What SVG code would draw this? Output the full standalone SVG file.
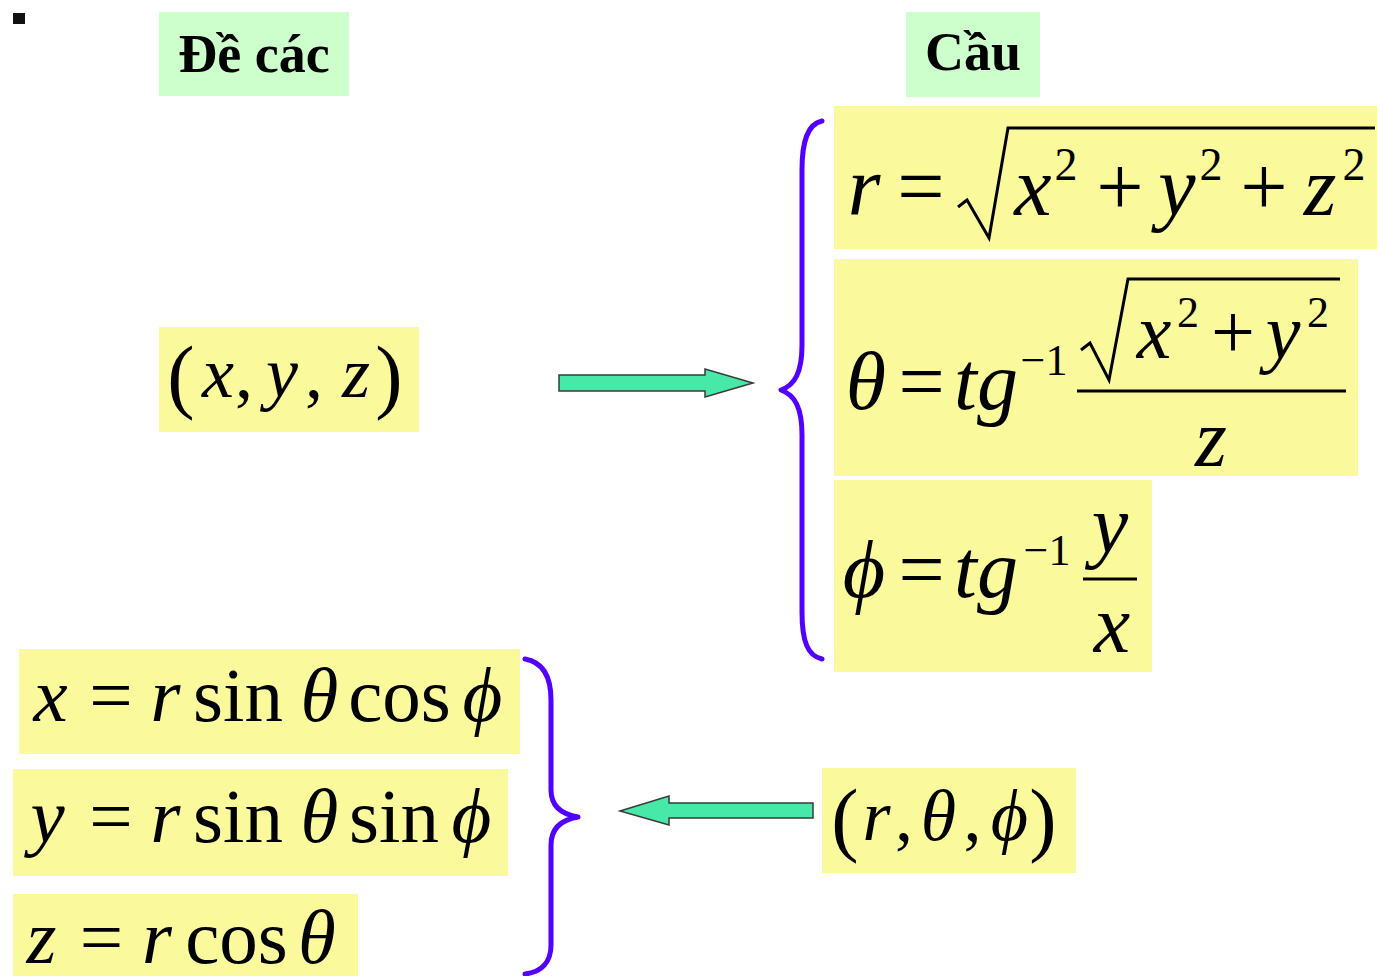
<svg xmlns="http://www.w3.org/2000/svg" width="1377" height="976" viewBox="0 0 1377 976">
<style>
.m{font-family:"Liberation Serif","Times New Roman",serif;fill:#000}
.i{font-style:italic}
.h{font-family:"Liberation Serif","Times New Roman",serif;font-weight:bold;font-size:54px;fill:#000}
.y{fill:#FAFA9C}
.g{fill:#CCFFCC}
.br{fill:none;stroke:#5200FF;stroke-width:5;stroke-linecap:round;stroke-linejoin:round}
.ar{fill:#48E8A8;stroke:#3a3a3a;stroke-width:1.5}
.rad{fill:none;stroke:#000;stroke-width:3;stroke-linejoin:miter}
.fl{stroke:#000;stroke-width:3}
</style>
<rect width="1377" height="976" fill="#fff"/>
<rect x="13" y="13" width="12" height="11" fill="#111"/>

<g id="hdr-decac">
<rect class="g" x="159" y="12" width="190" height="84"/>
<text class="h" x="254" y="72" text-anchor="middle">Đề các</text>
</g>
<g id="hdr-cau">
<rect class="g" x="906" y="12" width="134" height="85"/>
<text class="h" x="973" y="70" text-anchor="middle">Cầu</text>
</g>

<g id="node-xyz">
<rect class="y" x="159" y="327" width="260" height="105"/>
<text class="m" font-size="72" text-anchor="middle"><tspan x="181" y="403" font-size="82">(</tspan><tspan class="i" x="218" y="397">x</tspan><tspan x="244" y="397">,</tspan><tspan class="i" x="282" y="397">y</tspan><tspan x="314" y="397">,</tspan><tspan class="i" x="356" y="397">z</tspan><tspan x="389" y="403" font-size="82">)</tspan></text>
</g>

<g id="node-r">
<rect class="y" x="834" y="106" width="543" height="143"/>
<path class="rad" d="M958 207 L967 200 L989 238 L1008 128 L1375 128"/>
<text class="m" font-size="84" text-anchor="middle"><tspan class="i" x="864" y="215">r</tspan><tspan x="921" y="215">=</tspan><tspan class="i" x="1033" y="215">x</tspan><tspan x="1066" y="180" font-size="46">2</tspan><tspan x="1120" y="215">+</tspan><tspan class="i" x="1177" y="215">y</tspan><tspan x="1211" y="180" font-size="46">2</tspan><tspan x="1264" y="215">+</tspan><tspan class="i" x="1320" y="215">z</tspan><tspan x="1354" y="180" font-size="46">2</tspan></text>
</g>

<g id="node-theta">
<rect class="y" x="834" y="259" width="524" height="217"/>
<path class="rad" d="M1081 350 L1090 343 L1109 380 L1128 279 L1340 279"/>
<line class="fl" x1="1077" y1="391" x2="1346" y2="391"/>
<text class="m" font-size="82" text-anchor="middle"><tspan class="i" x="866" y="409">θ</tspan><tspan x="921.5" y="409">=</tspan><tspan class="i" x="986" y="409">tg</tspan><tspan x="1044" y="375" font-size="44">−1</tspan><tspan class="i" x="1154" y="358" font-size="78">x</tspan><tspan x="1188" y="327" font-size="44">2</tspan><tspan x="1233" y="358" font-size="78">+</tspan><tspan class="i" x="1283" y="358" font-size="78">y</tspan><tspan x="1318" y="327" font-size="44">2</tspan><tspan class="i" x="1211" y="466">z</tspan></text>
</g>

<g id="node-phi">
<rect class="y" x="834" y="480" width="318" height="192"/>
<line class="fl" x1="1083" y1="579" x2="1137" y2="579"/>
<text class="m" font-size="82" text-anchor="middle"><tspan class="i" x="864" y="597">ϕ</tspan><tspan x="921.5" y="597">=</tspan><tspan class="i" x="986" y="597">tg</tspan><tspan x="1047" y="565" font-size="44">−1</tspan><tspan class="i" x="1110" y="552">y</tspan><tspan class="i" x="1112" y="652">x</tspan></text>
</g>

<g id="node-rtp">
<rect class="y" x="822" y="768" width="254" height="105"/>
<text class="m" font-size="72" text-anchor="middle"><tspan x="845" y="846" font-size="82">(</tspan><tspan class="i" x="876.5" y="840">r</tspan><tspan x="904" y="840">,</tspan><tspan class="i" x="938.5" y="840">θ</tspan><tspan x="972.5" y="840">,</tspan><tspan class="i" x="1009.5" y="840">ϕ</tspan><tspan x="1043" y="846" font-size="82">)</tspan></text>
</g>

<g id="node-x">
<rect class="y" x="19" y="649" width="501" height="105"/>
<text class="m" font-size="77" text-anchor="middle"><tspan class="i" x="50.5" y="721">x</tspan><tspan x="111" y="721">=</tspan><tspan class="i" x="165.5" y="721">r</tspan><tspan x="238" y="721">sin</tspan><tspan class="i" x="319.5" y="721">θ</tspan><tspan x="399.5" y="721">cos</tspan><tspan class="i" x="482.5" y="721">ϕ</tspan></text>
</g>

<g id="node-y">
<rect class="y" x="13" y="769" width="495" height="107"/>
<text class="m" font-size="77" text-anchor="middle"><tspan class="i" x="47.5" y="842">y</tspan><tspan x="111" y="842">=</tspan><tspan class="i" x="165.5" y="842">r</tspan><tspan x="238" y="842">sin</tspan><tspan class="i" x="319.5" y="842">θ</tspan><tspan x="394" y="842">sin</tspan><tspan class="i" x="471.5" y="842">ϕ</tspan></text>
</g>

<g id="node-z">
<rect class="y" x="13" y="894" width="345" height="82"/>
<text class="m" font-size="77" text-anchor="middle"><tspan class="i" x="41.5" y="963">z</tspan><tspan x="101.5" y="963">=</tspan><tspan class="i" x="157" y="963">r</tspan><tspan x="236.5" y="963">cos</tspan><tspan class="i" x="317" y="963">θ</tspan></text>
</g>

<g id="connectors">
<polygon class="ar" points="559,375 705,375 705,369 753,383 705,397 705,391 559,391"/>
<polygon class="ar" points="813,803 669,803 669,796 620,811 669,825 669,818 813,818"/>
<path class="br" d="M822 121 C808 124 802 140 802 170 L802 345 C802 372 795 385 781 390 C795 395 802 408 802 435 L802 612 C802 642 808 656 822 659"/>
<path class="br" d="M525 659 C542 662 551 675 551 700 L551 790 C551 805 560 814 578 817 C560 820 551 829 551 845 L551 945 C551 962 542 972 525 974"/>
</g>
</svg>
